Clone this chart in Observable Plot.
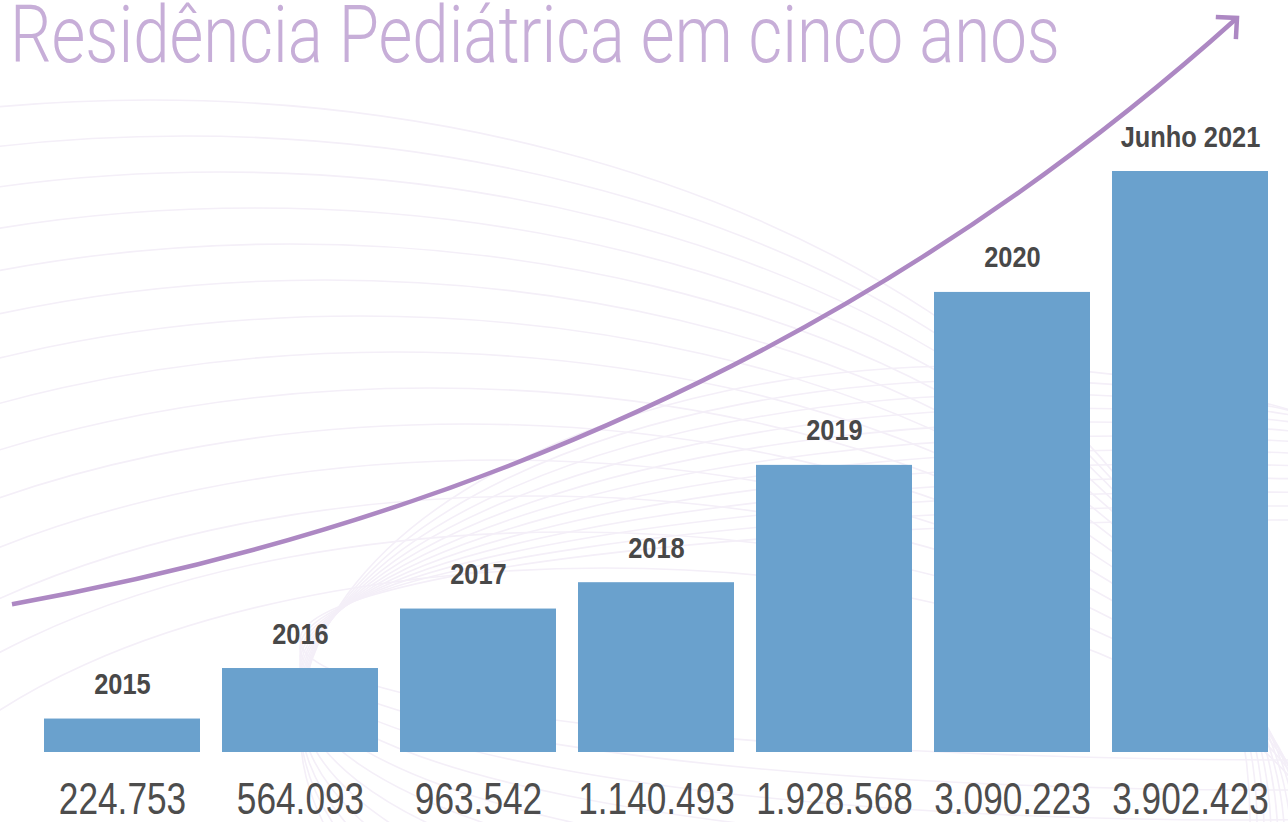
<!DOCTYPE html>
<html>
<head>
<meta charset="utf-8">
<script src="https://cdn.jsdelivr.net/npm/d3@7"></script>
<script src="https://cdn.jsdelivr.net/npm/@observablehq/plot@0.6"></script>
<style>
  html, body { margin: 0; padding: 0; background: #ffffff; overflow: hidden; }
  #wrap { position: relative; width: 1288px; height: 822px; overflow: hidden; }
  #title {
    position: absolute; left: 10px; top: 3px; margin: 0;
    font-family: Roboto, "Open Sans", sans-serif; font-weight: 300;
    font-size: 80px; line-height: 0.8; color: #c7aed8; white-space: nowrap;
    transform-origin: 0 0; z-index: 2;
  }
  #chart { position: absolute; left: 0; top: 0; z-index: 1; }
</style>
</head>
<body>
<div id="wrap">
  <div id="title">Residência Pediátrica em cinco anos</div>
  <div id="chart"></div>
</div>
<script>
// ---- data ----
const categories = ["2015", "2016", "2017", "2018", "2019", "2020", "Junho 2021"];
const values = [224753, 564093, 963542, 1140493, 1928568, 3090223, 3902423];

const data = categories.map((c, i) => ({ category: c, value: values[i] }));
const ptBR = d3.formatLocale({ decimal: ",", thousands: ".", grouping: [3], currency: ["R$", ""] });
const fmt = ptBR.format(",d");

const font = '"Liberation Sans", Arial, Helvetica, sans-serif';

const plot = Plot.plot({
  width: 1288,
  height: 822,
  margin: 0,
  style: { background: "transparent", overflow: "visible" },
  x: { domain: categories, range: [41, 1270], paddingInner: 0.124, paddingOuter: 0, axis: null },
  y: { domain: [0, 5e6], range: [752, 7.6], axis: null },
  marks: [
    Plot.barY(data, { x: "category", y: "value", fill: "#6aa1cd" }),
    Plot.text(data, {
      x: "category", y: "value", text: "category",
      lineAnchor: "bottom", dy: -25,
      fontFamily: font, fontWeight: "bold", fontSize: 29, fill: "#484848"
    }),
    Plot.text(data, {
      x: "category", y: () => 0, text: d => fmt(d.value),
      lineAnchor: "top", dy: 30,
      fontFamily: font, fontSize: 44, fill: "#4d4d4d"
    })
  ]
});

document.getElementById("chart").appendChild(plot);

// condensed look: the reference uses a condensed typeface
const svg = d3.select(plot);
const textGroups = plot.querySelectorAll('g[aria-label="text"]');
function condense(group, factor) {
  if (!group) return;
  group.querySelectorAll("text").forEach(el => {
    const L = el.getComputedTextLength();
    el.setAttribute("textLength", (L * factor).toFixed(1));
    el.setAttribute("lengthAdjust", "spacingAndGlyphs");
  });
}
condense(textGroups[0], 0.875);
condense(textGroups[1], 0.8);

// ---- decorative background + trend arrow (annotation) ----
const bg = svg.insert("g", ":first-child").attr("fill", "none").attr("stroke", "#f4eff8").attr("stroke-width", 1.6);
for (let k = 0; k < 14; k++) {
  bg.append("ellipse")
    .attr("cx", 150 + k * 35).attr("cy", 820 + k * 6)
    .attr("rx", 1100 - k * 28).attr("ry", 720 - k * 30);
}
for (let k = 0; k < 12; k++) {
  bg.append("ellipse")
    .attr("cx", 1300 - k * 30).attr("cy", 640 + k * 8)
    .attr("rx", 1000 - k * 30).attr("ry", 120 + k * 22);
}

const defs = svg.append("defs");
defs.append("marker")
  .attr("id", "arrowhead").attr("markerUnits", "userSpaceOnUse")
  .attr("viewBox", "-20 -20 24 40").attr("markerWidth", 24).attr("markerHeight", 40)
  .attr("refX", 0).attr("refY", 0).attr("orient", "auto")
  .append("path").attr("d", "M-15,-15L0,0L-15,15")
  .attr("fill", "none").attr("stroke", "#ad88c3").attr("stroke-width", 4.5);

const W = 1288, H = 822;
svg.append("path")
  .attr("d", `M${0.0093 * W},${0.735 * H} Q${0.566 * W},${0.578 * H} ${0.9604 * W},${0.0219 * H}`)
  .attr("fill", "none").attr("stroke", "#ad88c3").attr("stroke-width", 4.5)
  .attr("marker-end", "url(#arrowhead)");

// fit the title width to the reference layout
const t = document.getElementById("title");
const w = t.getBoundingClientRect().width;
t.style.transform = `scaleX(${1050 / w})`;
</script>
</body>
</html>
